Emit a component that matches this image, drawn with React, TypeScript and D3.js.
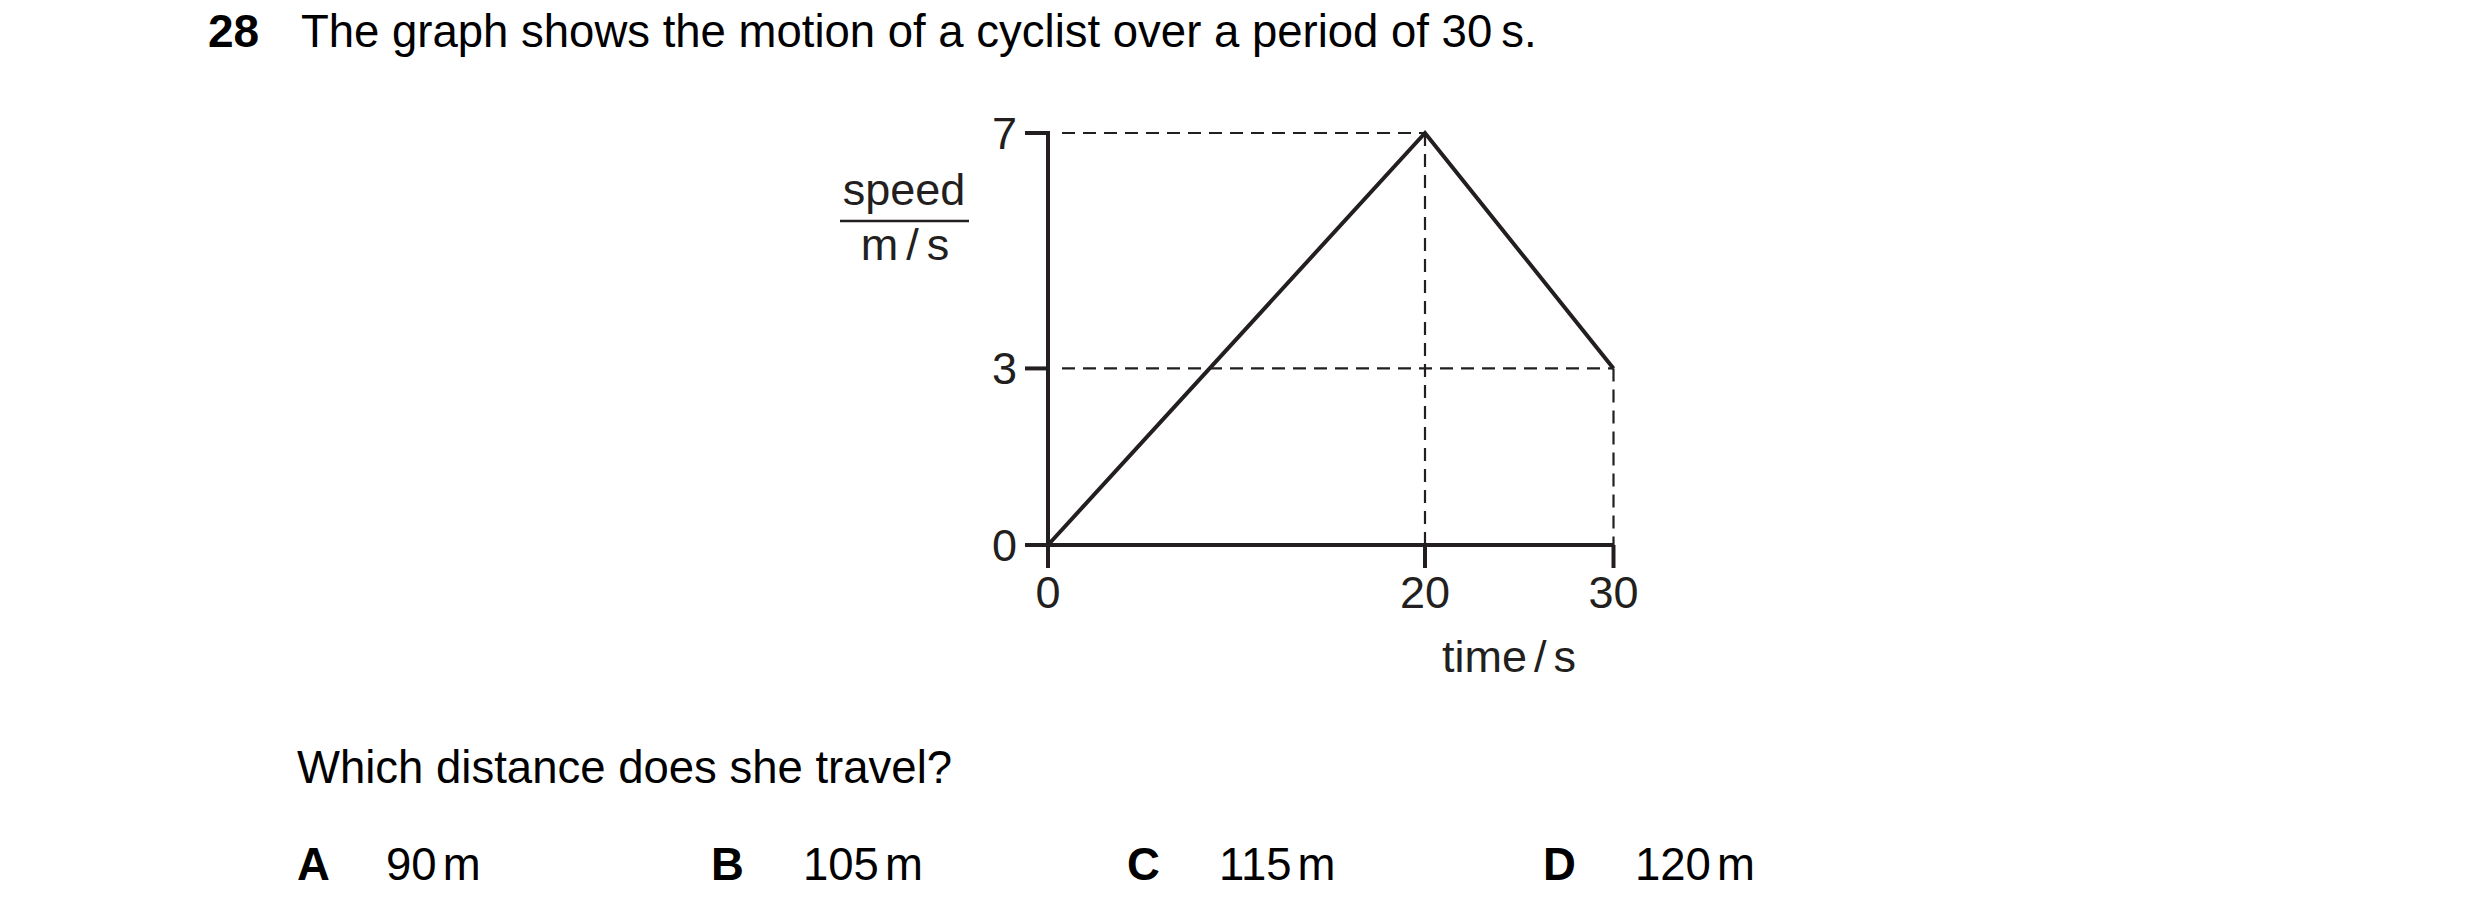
import React from "react";
import * as d3 from "d3";

const timeValues = [0, 20, 30];
const speedValues = [0, 7, 3];
const xTicks = [0, 20, 30];
const yTicks = [0, 3, 7];
const optionLetters = ["A", "B", "C", "D"];
const optionNumbers = ["90", "105", "115", "120"];
const optionUnit = "m";
const questionNumber = "28";
const titleText = "The graph shows the motion of a cyclist over a period of 30\u2009s.";
const questionText = "Which distance does she travel?";

const FONT = "'Liberation Sans', Arial, Helvetica, sans-serif";
const INK = "#231f20";

export default function App() {
  const W = 2480;
  const H = 922;
  const x = d3.scaleLinear().domain([0, 30]).range([1048, 1613.5]);
  const y = d3.scaleLinear().domain([0, 7]).range([545, 133]);
  const points = timeValues.map((t, i) => [t, speedValues[i]] as [number, number]);
  const line = d3
    .line<[number, number]>()
    .x((d) => x(d[0]))
    .y((d) => y(d[1]));

  const guides = points.filter((p) => p[0] !== 0);
  const optionLetterX = [297, 711, 1127, 1543];
  const optionValueX = [386, 803, 1219, 1635];

  return (
    <svg
      width={W}
      height={H}
      viewBox={`0 0 ${W} ${H}`}
      style={{ position: "absolute", left: 0, top: 0, background: "#fff" }}
      fontFamily={FONT}
    >
      <rect x={0} y={0} width={W} height={H} fill="#fff" />
      <text x={208} y={47} fontSize={46} fontWeight="bold" fill="#000">
        {questionNumber}
      </text>
      <text x={301} y={47} fontSize={45.5} fill="#000">
        {titleText}
      </text>

      {/* dashed guides */}
      {guides.map((p, i) => (
        <g key={"g" + i} stroke={INK} strokeWidth={2.2} strokeDasharray="13 8" fill="none">
          <line x1={x(0) + 14} x2={x(p[0])} y1={y(p[1])} y2={y(p[1])} />
          <line x1={x(p[0])} x2={x(p[0])} y1={y(p[1])} y2={y(0)} />
        </g>
      ))}

      {/* axes */}
      <line x1={x(0)} x2={x(0)} y1={y(7) - 2} y2={y(0) + 23} stroke={INK} strokeWidth={4} />
      <line x1={x(0) - 23} x2={x(30)} y1={y(0)} y2={y(0)} stroke={INK} strokeWidth={4} />
      {yTicks.map((t) => (
        <g key={"yt" + t}>
          <line x1={x(0) - 23} x2={x(0)} y1={y(t)} y2={y(t)} stroke={INK} strokeWidth={4} />
          <text x={1017} y={y(t) + 16} fontSize={45} textAnchor="end" fill={INK}>
            {t}
          </text>
        </g>
      ))}
      {xTicks.map((t) => (
        <g key={"xt" + t}>
          <line x1={x(t)} x2={x(t)} y1={y(0)} y2={y(0) + 23} stroke={INK} strokeWidth={4} />
          <text x={x(t)} y={608} fontSize={45} textAnchor="middle" fill={INK}>
            {t}
          </text>
        </g>
      ))}

      {/* data line */}
      <path d={line(points) || ""} fill="none" stroke={INK} strokeWidth={4} strokeLinejoin="miter" />

      {/* axis labels */}
      <text x={904} y={205} fontSize={45} textAnchor="middle" fill={INK}>
        speed
      </text>
      <line x1={840} x2={969} y1={221} y2={221} stroke={INK} strokeWidth={2.5} />
      <text x={905} y={260} fontSize={45} textAnchor="middle" fill={INK}>
        m<tspan dx={8}>/</tspan>
        <tspan dx={8}>s</tspan>
      </text>
      <text x={1509} y={672} fontSize={45} textAnchor="middle" fill={INK}>
        time<tspan dx={7}>/</tspan>
        <tspan dx={7}>s</tspan>
      </text>

      <text x={297} y={783} fontSize={45.5} fill="#000">
        {questionText}
      </text>
      {optionLetters.map((l, i) => (
        <g key={"o" + l}>
          <text x={optionLetterX[i]} y={880} fontSize={45.5} fontWeight="bold" fill="#000">
            {l}
          </text>
          <text x={optionValueX[i]} y={880} fontSize={45.5} fill="#000">
            {optionNumbers[i]}
            <tspan dx={6}>{optionUnit}</tspan>
          </text>
        </g>
      ))}
    </svg>
  );
}
